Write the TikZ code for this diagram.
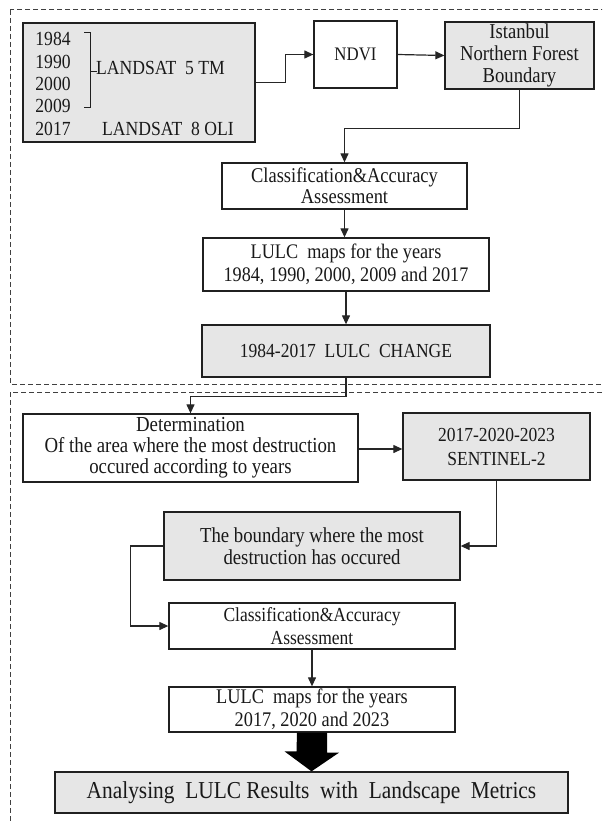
\documentclass[tikz,border=0pt]{standalone}
\usepackage{fontspec}
\setmainfont{Liberation Serif}[FakeStretch=0.88]
\usetikzlibrary{arrows.meta,calc}
\definecolor{boxgray}{HTML}{E6E6E6}
\definecolor{edge}{HTML}{202020}
\definecolor{wire}{HTML}{262626}
\tikzset{
  tsize/.style 2 args={font=\fontsize{#1}{#2}\selectfont},
  box/.style={draw=edge,line width=1.3pt,fill=white,align=center,inner sep=0pt,
    tsize={21}{22},text=black!90},
  gbox/.style={box,fill=boxgray},
  arr/.style={draw=wire,line width=1.2pt,-{Triangle[length=9pt,width=8pt]}},
  frame/.style={draw=black!75,dashed,dash pattern=on 5pt off 3pt,line width=1pt},
}
\begin{document}
\begin{tikzpicture}[x=1pt,y=-1pt]
\useasboundingbox (0,0) rectangle (602,821);
\begin{scope}
\clip (0,0) rectangle (602,821);
\draw[frame] (10,10) rectangle (606,384);
\draw[frame] (10,392) rectangle (606,840);
\end{scope}

% top section
\node[gbox,minimum width=232pt,minimum height=119pt] (landsat) at (139,82.5) {};
\begin{scope}[tsize={20}{22},text=black!90,inner sep=0pt]
\node (y1) at (53,39) {1984};
\node (y2) at (53,62) {1990};
\node (y3) at (53,84) {2000};
\node (y4) at (53,106) {2009};
\node (y5) at (53,129) {2017};
\node[anchor=west] (l5) at (96,68) {LANDSAT\ \ 5 TM};
\node[anchor=west] (l8) at (102,129) {LANDSAT\ \ 8 OLI};
\end{scope}
\draw[edge,line width=1pt] (84,33) -- (90,33) -- (90,108) -- (84,108);
\draw[edge,line width=1pt] (90,72) -- (97,72);

\node[box,tsize={19.1}{22},minimum width=83pt,minimum height=67pt] (ndvi) at (355.5,54.5) {NDVI};
\node[gbox,tsize={21.2}{22},minimum width=149pt,minimum height=67pt] (ist) at (519.5,55.5) {Istanbul\\Northern Forest\\Boundary};
\node[box,tsize={21}{21},minimum width=245pt,minimum height=46pt] (cls1) at (344.5,186) {Classification\&Accuracy\\Assessment};
\node[box,tsize={20.7}{23},minimum width=286pt,minimum height=53pt] (lulc1) at (346,264.5) {LULC\ \ maps for the years\\1984, 1990, 2000, 2009 and 2017};
\node[gbox,tsize={19.9}{22},minimum width=288pt,minimum height=52pt] (chg) at (346,351) {1984-2017\ \ LULC\ \ CHANGE};

% bottom section
\node[box,tsize={21.4}{21},minimum width=335pt,minimum height=68pt] (det) at (190.5,448) {Determination\\Of the area where the most destruction\\occured according to years};
\node[gbox,tsize={19.9}{24},minimum width=187pt,minimum height=67pt] (sen) at (496.5,446.5) {2017-2020-2023\\SENTINEL-2};
\node[gbox,tsize={21.3}{22},minimum width=296pt,minimum height=68pt] (bnd) at (312,546) {The boundary where the most\\destruction has occured};
\node[box,tsize={19.9}{23},minimum width=286pt,minimum height=46pt] (cls2) at (312,626) {Classification\&Accuracy\\Assessment};
\node[box,tsize={20.8}{23},minimum width=286pt,minimum height=45pt] (lulc2) at (312,709.5) {LULC\ \ maps for the years\\2017, 2020 and 2023};
\node[gbox,tsize={24.3}{24},minimum width=513pt,minimum height=41pt] (final) at (311.5,792.5) {Analysing\ \ LULC Results\ \ with\ \ Landscape\ \ Metrics};

% connectors
\draw[arr] (landsat.east) -- ++(30,0) |- (ndvi.west);
\draw[arr] (ndvi.east) -- (ist.west);
\draw[arr] (ist.south) -- ++(0,39) -| (cls1.north);
\draw[arr] (cls1.south) -- (cls1.south |- lulc1.north);
\draw[arr] (lulc1.south) -- (lulc1.south |- chg.north);
\draw[arr] (chg.south) -- ++(0,19) -| (det.north);
\draw[arr] ([yshift=-1pt]det.east) -- ([yshift=-1pt]det.east -| sen.west);
\draw[arr] (sen.south) |- (bnd.east);
\draw[arr] (bnd.west) -- ++(-33,0) |- (cls2.west);
\draw[arr] (cls2.south) -- (lulc2.north);
\fill[black] (lulc2.south) ++(-15,0) -- ++(30,0) -- ++(0,20) -- ++(12,0)
  -- (final.north) -- ++(-27,-20) -- ++(12,0) -- cycle;
\end{tikzpicture}
\end{document}
